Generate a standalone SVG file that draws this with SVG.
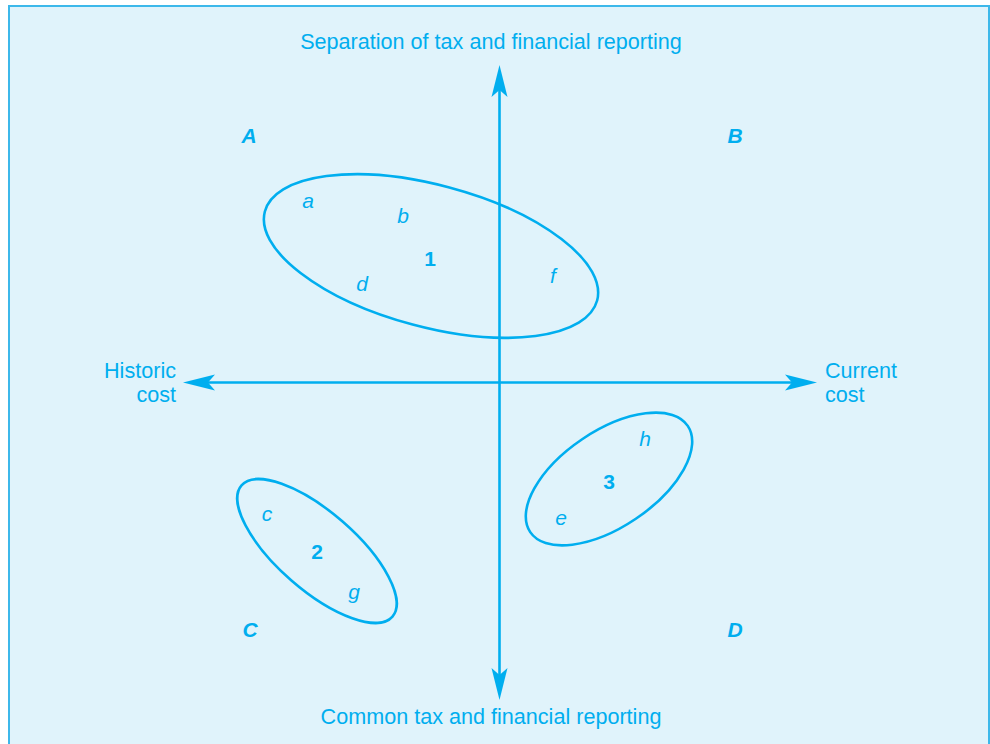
<svg xmlns="http://www.w3.org/2000/svg" xmlns:xlink="http://www.w3.org/1999/xlink" width="990" height="744" viewBox="0 0 990 744">
<style>
text{font-family:"Liberation Sans",Arial,Helvetica,sans-serif;font-size:21px;fill:#00aeef}
.lbl{font-size:21.6px}
.it{font-style:italic;text-anchor:middle}
.num{font-weight:bold;text-anchor:middle}
.q{font-weight:bold;font-style:italic;text-anchor:middle}
.axis{stroke:#00aeef;stroke-width:2.6;fill:none}
.grp{stroke:#00aeef;stroke-width:2.6;fill:none}
</style>
<defs>
<path id="ah" d="M0,0 L8,32 L0,25 L-8,32 Z" fill="#00aeef"/>
</defs>
<rect x="9" y="6" width="980" height="800" fill="#e0f3fb" stroke="#3db8ea" stroke-width="2"/>
<g id="connectors">
<path class="axis" d="M499.5,88 V677"/>
<path class="axis" d="M206,382.5 H794"/>
<use xlink:href="#ah" transform="translate(499.5,65)"/>
<use xlink:href="#ah" transform="translate(499.5,700) rotate(180)"/>
<use xlink:href="#ah" transform="translate(183,382.5) rotate(-90)"/>
<use xlink:href="#ah" transform="translate(817,382.5) rotate(90)"/>
</g>
<g id="axis-labels">
<text class="lbl" x="491" y="49" text-anchor="middle">Separation of tax and financial reporting</text>
<text class="lbl" x="491" y="724" text-anchor="middle">Common tax and financial reporting</text>
<text class="lbl" x="176" y="378" text-anchor="end">Historic</text>
<text class="lbl" x="176" y="402" text-anchor="end">cost</text>
<text class="lbl" x="825" y="378">Current</text>
<text class="lbl" x="825" y="402">cost</text>
</g>
<g id="quadrants">
<text class="q" x="249" y="143">A</text>
<text class="q" x="735" y="143">B</text>
<text class="q" x="250" y="637">C</text>
<text class="q" x="735" y="637">D</text>
</g>
<g id="group1">
<ellipse class="grp" cx="431" cy="256" rx="172" ry="71" transform="rotate(15 431 256)"/>
<text class="it" x="308" y="208">a</text>
<text class="it" x="403" y="223">b</text>
<text class="num" x="430" y="266">1</text>
<text class="it" x="362" y="291">d</text>
<text class="it" x="553" y="283">f</text>
</g>
<g id="group2">
<ellipse class="grp" cx="317" cy="551" rx="100" ry="39" transform="rotate(41 317 551)"/>
<text class="it" x="267" y="521">c</text>
<text class="num" x="317" y="559">2</text>
<text class="it" x="354" y="599">g</text>
</g>
<g id="group3">
<ellipse class="grp" cx="609" cy="479" rx="95" ry="48" transform="rotate(-34 609 479)"/>
<text class="it" x="645" y="446">h</text>
<text class="num" x="609" y="489">3</text>
<text class="it" x="561" y="525">e</text>
</g>
</svg>
